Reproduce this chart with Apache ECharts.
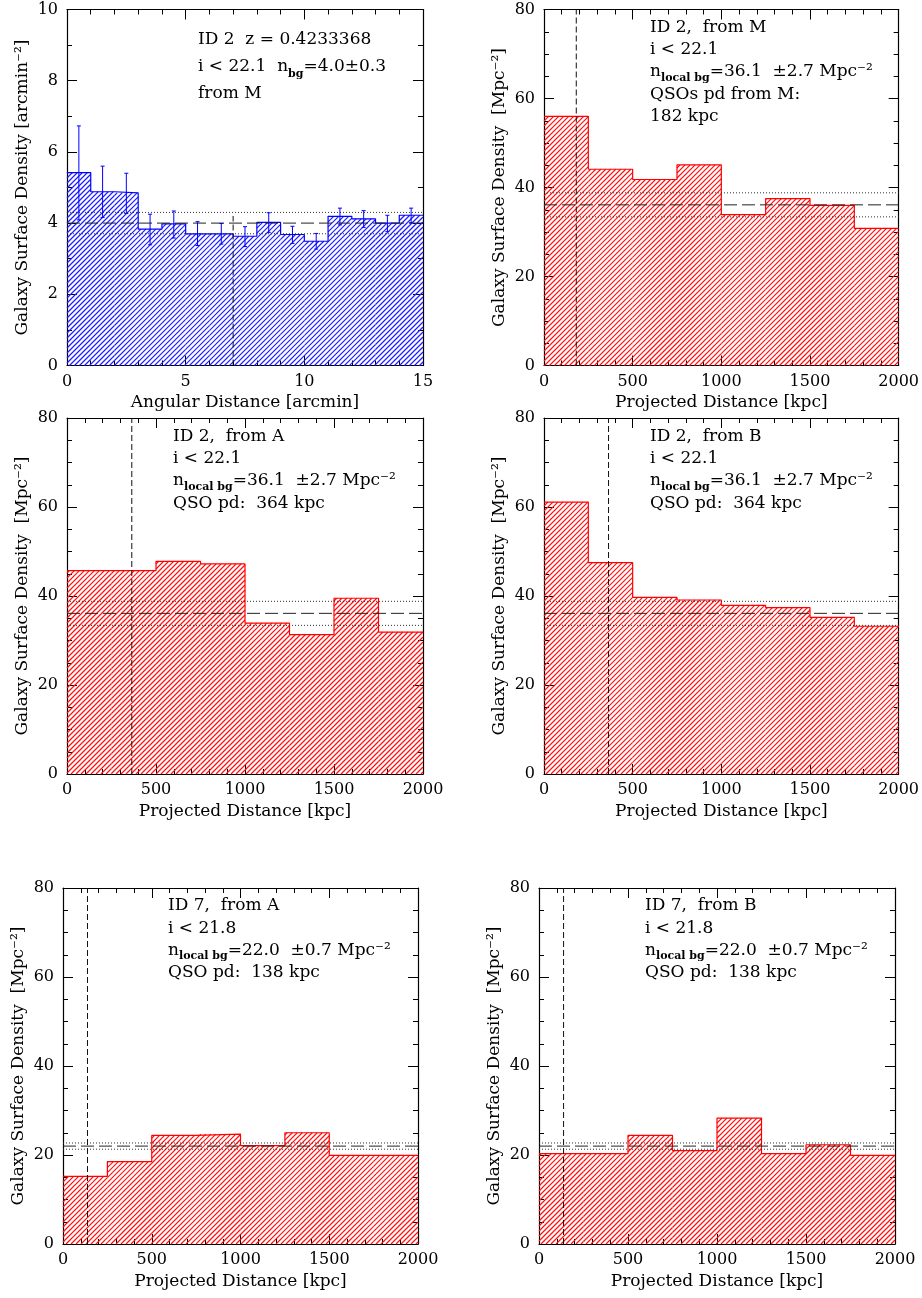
<!DOCTYPE html>
<html><head><meta charset="utf-8">
<script src="https://cdn.jsdelivr.net/npm/echarts@6/dist/echarts.min.js"></script>
<style>html,body{margin:0;padding:0;background:#fff}#c{width:922px;height:1298px}</style>
</head><body><div id="c"></div>
<script>
// ---------------- DATA ----------------
const angEdges = [0,1,2,3,4,5,6,7,8,9,10,11,12,13,14,15];
const angCenters = [0.5,1.5,2.5,3.5,4.5,5.5,6.5,7.5,8.5,9.5,10.5,11.5,12.5,13.5,14.5];
const id2M_ang = [5.42,4.88,4.85,3.83,3.98,3.70,3.70,3.63,4.02,3.68,3.49,4.19,4.12,4.00,4.22];
const id2M_angErrLo = [4.09,4.16,4.27,3.39,3.58,3.37,3.41,3.34,3.74,3.43,3.27,3.95,3.88,3.76,4.01];
const id2M_angErrHi = [6.73,5.60,5.40,4.25,4.34,4.04,3.99,3.90,4.29,3.91,3.71,4.42,4.35,4.22,4.42];

const kpcEdges = [0,250,500,750,1000,1250,1500,1750,2000];
const id2M_kpc = [56.0,44.1,41.8,45.1,33.9,37.5,36.0,30.8];
const id2A_kpc = [45.7,45.7,47.8,47.2,33.9,31.3,39.5,31.9];
const id2B_kpc = [61.1,47.5,39.7,39.1,37.9,37.4,35.2,33.2];
const id7A_kpc = [15.2,18.5,24.4,24.7,22.1,25.0,19.9,19.9];
const id7B_kpc = [20.3,20.3,24.4,21.0,28.3,20.3,22.3,19.9];

const bgAng = [4.0, 0.3];
const bgID2 = [36.1, 2.7];
const bgID7 = [22.0, 0.7];
const pdAng = [7, 4.2];          // position, top of drawn line
const pdKpc = [182, 364, 364, 138, 138];

const xTicksAng = [0, 15, 5];    // min, max, interval
const xTicksKpc = [0, 2000, 500];
const yTicksAng = [0, 10, 2];
const yTicksKpc = [0, 80, 20];

const notes = [
  ['ID 2  z = 0.4233368', 'i < 22.1  n{s|bg}=4.0±0.3', 'from M'],
  ['ID 2,  from M', 'i < 22.1', 'n{s|local bg}=36.1  ±2.7 Mpc⁻²', 'QSOs pd from M:', '182 kpc'],
  ['ID 2,  from A', 'i < 22.1', 'n{s|local bg}=36.1  ±2.7 Mpc⁻²', 'QSO pd:  364 kpc'],
  ['ID 2,  from B', 'i < 22.1', 'n{s|local bg}=36.1  ±2.7 Mpc⁻²', 'QSO pd:  364 kpc'],
  ['ID 7,  from A', 'i < 21.8', 'n{s|local bg}=22.0  ±0.7 Mpc⁻²', 'QSO pd:  138 kpc'],
  ['ID 7,  from B', 'i < 21.8', 'n{s|local bg}=22.0  ±0.7 Mpc⁻²', 'QSO pd:  138 kpc']
];
const xNames = ['Angular Distance [arcmin]','Projected Distance [kpc]','Projected Distance [kpc]','Projected Distance [kpc]','Projected Distance [kpc]','Projected Distance [kpc]'];
const yNameAng = 'Galaxy Surface Density [arcmin⁻²]';
const yNameKpc = 'Galaxy Surface Density  [Mpc⁻²]';

// ---------------- LAYOUT ----------------
const FONT = 'DejaVu Serif';
const grids = [
  {left:67, top:9.5, width:356, height:356},
  {left:544, top:9.5, width:356, height:356},
  {left:67, top:418, width:356, height:356},
  {left:544, top:418, width:356, height:356},
  {left:63, top:888, width:355, height:356},
  {left:539, top:888, width:356, height:356}
];
const notePos = [
  {x:198, y:26, lh:27},
  {x:650, y:16, lh:22.4},
  {x:173, y:425, lh:22.4},
  {x:650, y:425, lh:22.4},
  {x:168, y:894.5, lh:22.4},
  {x:645, y:894.5, lh:22.4}
];
const HATCH = 5;

const panels = [
  {vals:id2M_ang, edges:angEdges, bg:bgAng, pd:pdAng[0], pdTop:pdAng[1], xt:xTicksAng, yt:yTicksAng, xMinor:5, yMinor:2, color:'#0000ff', hatch:'#1f1fff', yName:yNameAng},
  {vals:id2M_kpc, edges:kpcEdges, bg:bgID2, pd:pdKpc[0], pdTop:yTicksKpc[1], xt:xTicksKpc, yt:yTicksKpc, xMinor:5, yMinor:4, color:'#ff0000', hatch:'#ff1010', yName:yNameKpc},
  {vals:id2A_kpc, edges:kpcEdges, bg:bgID2, pd:pdKpc[1], pdTop:yTicksKpc[1], xt:xTicksKpc, yt:yTicksKpc, xMinor:5, yMinor:4, color:'#ff0000', hatch:'#ff1010', yName:yNameKpc},
  {vals:id2B_kpc, edges:kpcEdges, bg:bgID2, pd:pdKpc[2], pdTop:yTicksKpc[1], xt:xTicksKpc, yt:yTicksKpc, xMinor:5, yMinor:4, color:'#ff0000', hatch:'#ff1010', yName:yNameKpc},
  {vals:id7A_kpc, edges:kpcEdges, bg:bgID7, pd:pdKpc[3], pdTop:yTicksKpc[1], xt:xTicksKpc, yt:yTicksKpc, xMinor:5, yMinor:4, color:'#ff0000', hatch:'#ff1010', yName:yNameKpc},
  {vals:id7B_kpc, edges:kpcEdges, bg:bgID7, pd:pdKpc[4], pdTop:yTicksKpc[1], xt:xTicksKpc, yt:yTicksKpc, xMinor:5, yMinor:4, color:'#ff0000', hatch:'#ff1010', yName:yNameKpc}
];

const xAxis = [], yAxis = [], series = [], graphic = [];
const tickBase = {show:true, inside:true, length:10, lineStyle:{color:'#000', width:1}};
const minorBase = {show:true, length:5, lineStyle:{color:'#000', width:1}};
const lineBase = {show:true, onZero:false, lineStyle:{color:'#000', width:1.2}};
const plain = v => String(v);

panels.forEach((p, i) => {
  const [x0, x1, xi] = p.xt, [y0, y1, yi] = p.yt;
  xAxis.push({type:'value', gridIndex:i, position:'bottom', min:x0, max:x1, interval:xi,
    axisLine:lineBase, axisTick:tickBase, minorTick:Object.assign({splitNumber:p.xMinor}, minorBase),
    splitLine:{show:false},
    axisLabel:{color:'#000', fontFamily:FONT, fontSize:16, margin:8, formatter:plain},
    name:xNames[i], nameLocation:'middle', nameGap:29,
    nameTextStyle:{color:'#000', fontFamily:FONT, fontSize:17}});
  xAxis.push({type:'value', gridIndex:i, position:'top', min:x0, max:x1, interval:xi,
    axisLine:lineBase, axisTick:tickBase, minorTick:Object.assign({splitNumber:p.xMinor}, minorBase),
    splitLine:{show:false}, axisLabel:{show:false}});
  yAxis.push({type:'value', gridIndex:i, position:'left', min:y0, max:y1, interval:yi,
    axisLine:lineBase, axisTick:tickBase, minorTick:Object.assign({splitNumber:p.yMinor}, minorBase),
    splitLine:{show:false},
    axisLabel:{color:'#000', fontFamily:FONT, fontSize:16, margin:9, formatter:plain},
    name:p.yName, nameLocation:'middle', nameGap:36,
    nameTextStyle:{color:'#000', fontFamily:FONT, fontSize:17}});
  yAxis.push({type:'value', gridIndex:i, position:'right', min:y0, max:y1, interval:yi,
    axisLine:lineBase, axisTick:tickBase, minorTick:Object.assign({splitNumber:p.yMinor}, minorBase),
    splitLine:{show:false}, axisLabel:{show:false}});

  const xa = 2 * i, ya = 2 * i;
  const common = {type:'line', xAxisIndex:xa, yAxisIndex:ya, symbol:'none', silent:true, animation:false};

  // hatched fill of each bin
  const hc = p.hatch;
  series.push({type:'custom', xAxisIndex:xa, yAxisIndex:ya, silent:true, animation:false, z:1,
    data:p.vals.map((v, k) => [p.edges[k], p.edges[k + 1], v]),
    renderItem:(params, api) => {
      const tl = api.coord([api.value(0), api.value(2)]);
      const br = api.coord([api.value(1), y0]);
      const xA = tl[0], yA = tl[1], xB = br[0], yB = br[1];
      const kids = [];
      for (let c = Math.ceil((xA + yA) / HATCH) * HATCH; c <= xB + yB; c += HATCH) {
        const u1 = Math.max(xA, c - yB), u2 = Math.min(xB, c - yA);
        if (u2 <= u1) continue;
        kids.push({type:'line', shape:{x1:u1, y1:c - u1, x2:u2, y2:c - u2}, style:{stroke:hc, lineWidth:1.2}});
      }
      return {type:'group', children:kids};
    }
  });
  // histogram outline
  series.push(Object.assign({}, common, {
    step:'end',
    data:p.edges.map((e, k) => [e, p.vals[Math.min(k, p.vals.length - 1)]]),
    lineStyle:{color:p.color, width:1.2},
    z:3
  }));
  // background level and its error
  const [bg, be] = p.bg;
  series.push(Object.assign({}, common, {data:[[x0, bg], [x1, bg]], lineStyle:{color:'#222', width:1, type:[13, 5]}, z:4}));
  series.push(Object.assign({}, common, {data:[[x0, bg + be], [x1, bg + be]], lineStyle:{color:'#333', width:1, type:[1, 2]}, z:4}));
  series.push(Object.assign({}, common, {data:[[x0, bg - be], [x1, bg - be]], lineStyle:{color:'#333', width:1, type:[1, 2]}, z:4}));
  // QSO pair distance
  series.push(Object.assign({}, common, {data:[[p.pd, y0], [p.pd, p.pdTop]], lineStyle:{color:'#111', width:1, type:[6, 3]}, z:4}));

  // annotation
  const np = notePos[i];
  graphic.push({type:'text', x:np.x, y:np.y, silent:true, z:10,
    style:{text:notes[i].join('\n'), fill:'#000', fontFamily:FONT, fontSize:17, lineHeight:np.lh,
      verticalAlign:'top', align:'left',
      rich:{s:{fontSize:11, fontWeight:'bold', fontFamily:FONT, fill:'#000', lineHeight:10, verticalAlign:'bottom'}}}});
});

// error bars on the angular panel
series.push({type:'custom', xAxisIndex:0, yAxisIndex:0, silent:true, animation:false, z:5,
  data:angCenters.map((c, k) => [c, id2M_angErrLo[k], id2M_angErrHi[k]]),
  renderItem:(params, api) => {
    const lo = api.coord([api.value(0), api.value(1)]);
    const hi = api.coord([api.value(0), api.value(2)]);
    const w = 2, st = {stroke:'#0000ff', lineWidth:1};
    return {type:'group', children:[
      {type:'line', shape:{x1:lo[0], y1:lo[1], x2:hi[0], y2:hi[1]}, style:st},
      {type:'line', shape:{x1:lo[0] - w, y1:lo[1], x2:lo[0] + w, y2:lo[1]}, style:st},
      {type:'line', shape:{x1:hi[0] - w, y1:hi[1], x2:hi[0] + w, y2:hi[1]}, style:st}
    ]};
  }
});

const chart = echarts.init(document.getElementById('c'), null, {renderer:'canvas'});
chart.setOption({
  animation:false,
  backgroundColor:'#fff',
  grid:grids.map(g => Object.assign({containLabel:false}, g)),
  xAxis, yAxis, series, graphic
});
</script>
</body></html>
